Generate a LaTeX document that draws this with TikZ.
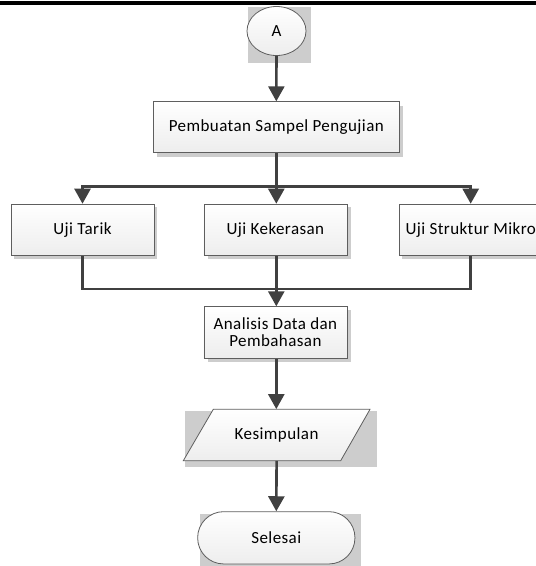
\documentclass[tikz,border=0pt]{standalone}
\usepackage{fontspec}
\setmainfont{Carlito}[LetterSpace=2.5]
\usetikzlibrary{arrows.meta,shapes.geometric,calc}
\definecolor{conn}{HTML}{404040}
\definecolor{edge}{HTML}{5E5E5E}
\definecolor{shad}{HTML}{CDCDCD}
\tikzset{
  txt/.style={font=\fontsize{17}{17}\selectfont},
  boxfill/.style={top color=white,bottom color=black!7,draw=edge,line width=0.8pt},
  procbox/.style={rectangle,boxfill,minimum width=143pt,minimum height=51.6pt,inner sep=0pt,align=center,txt},
  shadowfill/.style={fill=shad,draw=none},
  conn/.style={draw=conn,line width=2.6pt},
  arr/.style={conn,-{Triangle[length=15pt,width=16pt]}},
}
\begin{document}
\begin{tikzpicture}[x=1pt,y=-1pt]
\useasboundingbox (0,0) rectangle (536,566);
\clip (0,0) rectangle (536,566);
\fill[white] (0,0) rectangle (536,566);
% top rule
\fill[black] (0,0.5) rectangle (536,4.5);

% shadows
\fill[shadowfill] (248,7) rectangle (311,63);
\fill[shadowfill] (157.3,105.7) rectangle (403.3,156.7);
\fill[shadowfill] (14,207) rectangle (157,259);
\fill[shadowfill] (207.7,207) rectangle (350.7,259);
\fill[shadowfill] (402.3,207) rectangle (545,259);
\fill[shadowfill] (207.7,310) rectangle (350.7,362);
\fill[shadowfill] (185,411) rectangle (376.7,466.7);
\fill[shadowfill] (200,514) rectangle (360.7,570);

% nodes
\node[ellipse,boxfill,minimum width=59pt,minimum height=49pt,inner sep=0pt,txt] (A) at (276.5,31) {A};
\node[procbox,minimum width=246pt,minimum height=51pt] (b1) at (276.3,127.2) {Pembuatan Sampel Pengujian};
\node[procbox] (t1) at (82.5,229.9) {Uji Tarik};
\node[procbox] (t2) at (275.4,229.9) {Uji Kekerasan};
\node[procbox] (t3) at (470.7,229.9) {Uji Struktur Mikro};
\node[procbox] (an) at (275.4,332.5) {Analisis Data dan\\Pembahasan};

% parallelogram
\path[boxfill] (213.3,409.3) -- (370,409.3) -- (340.7,460.7) -- (183.3,460.7) -- cycle;
\node[minimum width=100pt,minimum height=51.4pt,inner sep=0pt,txt] (k) at (276.6,435) {Kesimpulan};

% terminal
\node[rectangle,boxfill,rounded corners=26pt,minimum width=157.3pt,minimum height=52.3pt,inner sep=0pt,txt] (s) at (276.3,537.8) {Selesai};

% connectors
\coordinate (j1) at (276.3,186.7);
\coordinate (j2) at (276.3,289);
\draw[arr] (A.south) -- (b1.north);
\draw[conn] (b1.south) -- (j1);
\draw[arr] (j1) -| (t1.north);
\draw[arr] (j1) -| (t3.north);
\draw[arr] (j1) -- (j1 |- t2.north);
\draw[conn] (t1.south) |- (j2);
\draw[conn] (t3.south) |- (j2);
\draw[conn] (t2.south -| j2) -- (j2);
\draw[arr] (j2) -- (j2 |- an.north);
\draw[arr] (an.south -| j2) -- (j2 |- k.north);
\draw[arr] (k.south) -- (s.north);
\end{tikzpicture}
\end{document}
